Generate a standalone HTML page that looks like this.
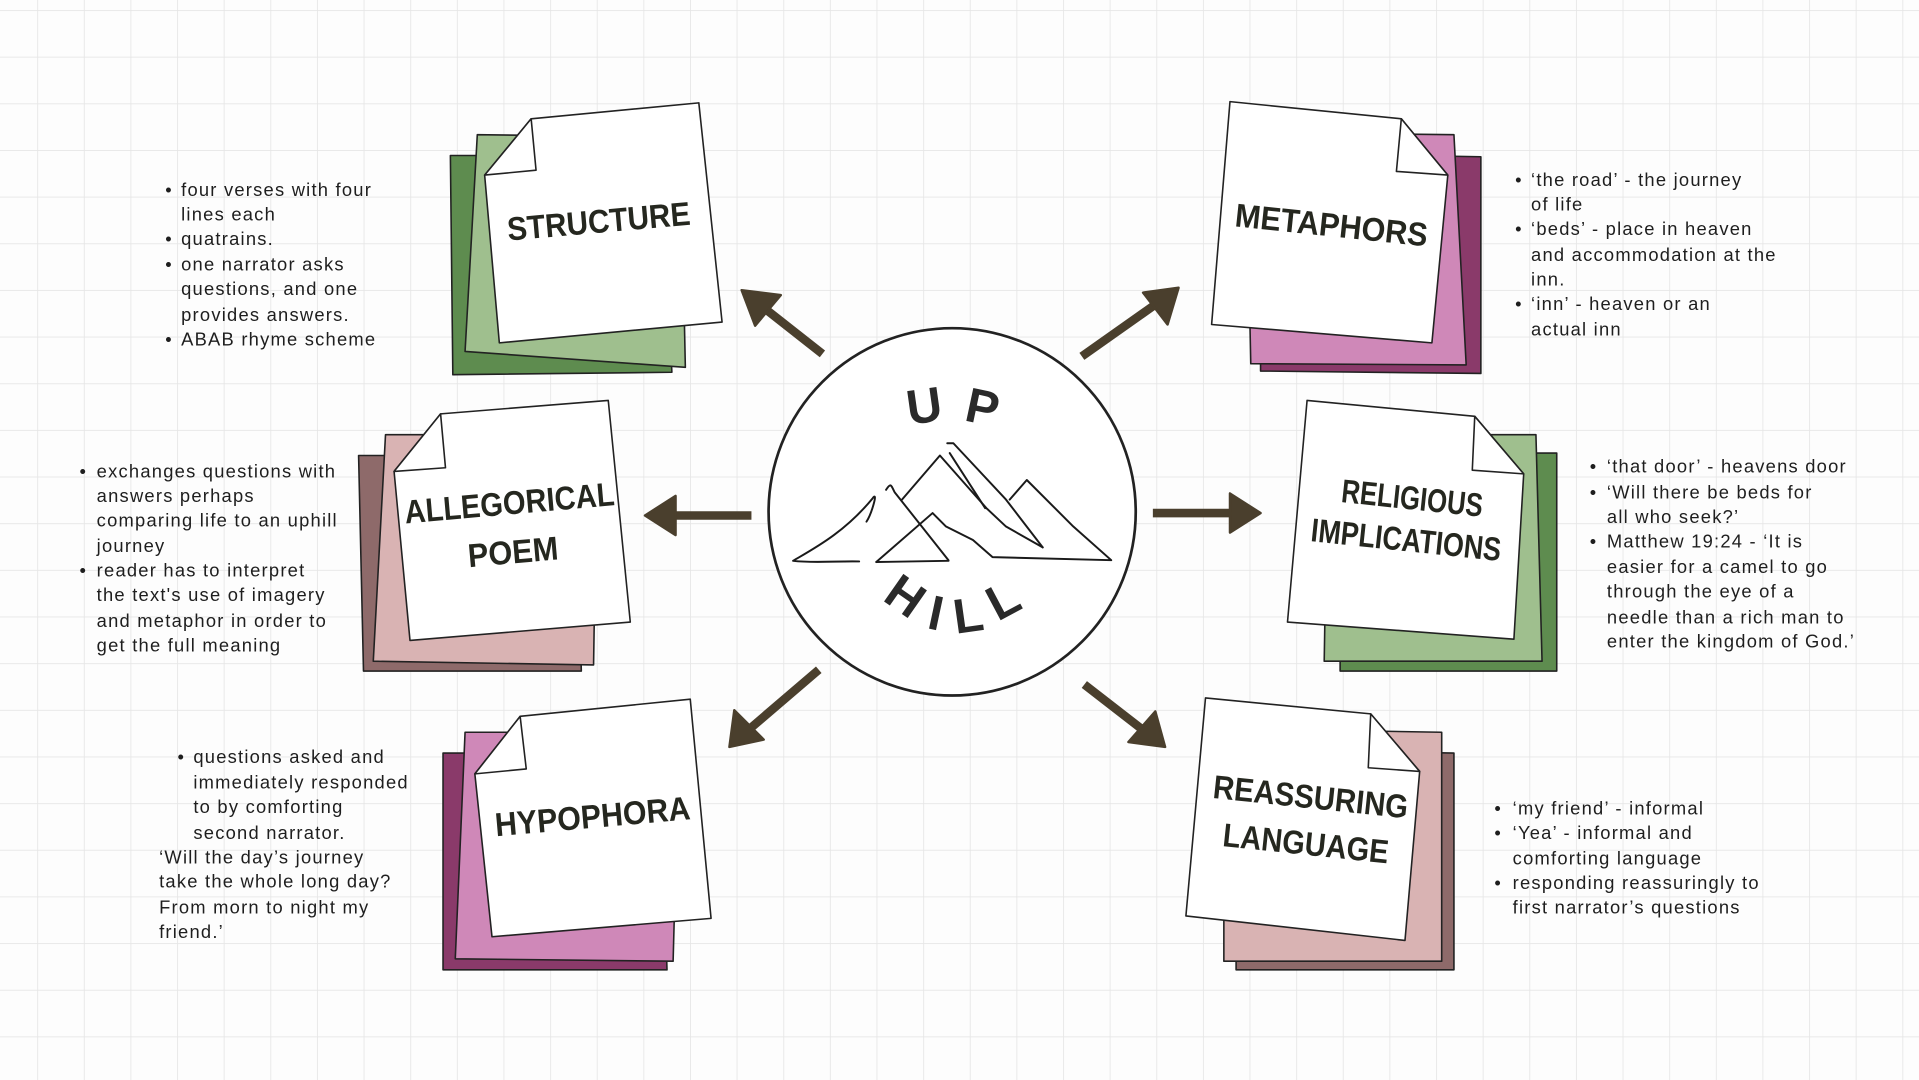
<!DOCTYPE html>
<html><head><meta charset="utf-8"><style>
html,body{margin:0;padding:0;background:#fdfdfd;}
svg{display:block;}
.t{font-family:"Liberation Sans",sans-serif;font-size:15px;letter-spacing:1px;fill:#1e1e1e;}
.h{font-family:"Liberation Sans",sans-serif;font-weight:bold;font-size:27px;fill:#25271f;text-anchor:middle;}
.s{stroke:#222;stroke-width:1.3;stroke-linejoin:round;}
</style></head><body>
<svg width="1919" height="1080" viewBox="0 0 1568 882" preserveAspectRatio="none" xmlns="http://www.w3.org/2000/svg">
<defs>
<pattern id="g" x="30.4" y="8.2" width="38.1" height="38.1" patternUnits="userSpaceOnUse">
<path d="M0 0H38.1M0 0V38.1" stroke="#e6e6e6" stroke-width="1.4" fill="none"/>
</pattern>
</defs>
<rect width="1568" height="882" fill="#fdfdfd"/>
<rect width="1568" height="882" fill="url(#g)"/>

<!-- STRUCTURE -->
<polygon class="s" fill="#5e8c4f" points="368,127 540,127 549,304 370,306"/>
<polygon class="s" fill="#9fbf8e" points="390,110 556,112 560,300 380,287"/>
<polygon class="s" fill="#fff" points="434,97 571,84 590,263 408,280 396,143"/>
<polygon class="s" fill="#fff" points="434,97 396,143 438,139"/>
<text class="h" x="490" y="190" textLength="150" lengthAdjust="spacingAndGlyphs" transform="rotate(-5 490 190)">STRUCTURE</text>

<!-- METAPHORS -->
<polygon class="s" fill="#8a3a6a" points="1030,125 1210,128 1210,305 1030,303"/>
<polygon class="s" fill="#cf88b8" points="1018,108 1188,110 1198,298 1022,297"/>
<polygon class="s" fill="#fff" points="1005,83 1145,97 1183,143 1170,280 990,265"/>
<polygon class="s" fill="#fff" points="1145,97 1183,143 1141,140"/>
<text class="h" x="1087" y="193" textLength="158" lengthAdjust="spacingAndGlyphs" transform="rotate(6 1087 193)">METAPHORS</text>

<!-- ALLEGORICAL -->
<polygon class="s" fill="#8e6a6a" points="293,372 470,372 475,548 297,548"/>
<polygon class="s" fill="#d9b3b3" points="315,355 488,355 485,543 305,540"/>
<polygon class="s" fill="#fff" points="360,338 497,327 515,508 335,523 322,385"/>
<polygon class="s" fill="#fff" points="360,338 322,385 364,382"/>
<text class="h" x="417" y="420" textLength="172" lengthAdjust="spacingAndGlyphs" transform="rotate(-5 417 420)">ALLEGORICAL</text>
<text class="h" x="420" y="460" textLength="74" lengthAdjust="spacingAndGlyphs" transform="rotate(-5 420 460)">POEM</text>

<!-- RELIGIOUS -->
<polygon class="s" fill="#5e8c4f" points="1095,370 1272,370 1272,548 1095,548"/>
<polygon class="s" fill="#9fbf8e" points="1085,355 1255,355 1260,540 1082,540"/>
<polygon class="s" fill="#fff" points="1068,327 1205,340 1245,387 1237,522 1052,508"/>
<polygon class="s" fill="#fff" points="1205,340 1245,387 1203,384"/>
<text class="h" x="1153" y="416" textLength="116" lengthAdjust="spacingAndGlyphs" transform="rotate(6 1153 416)">RELIGIOUS</text>
<text class="h" x="1148" y="450" textLength="156" lengthAdjust="spacingAndGlyphs" transform="rotate(6 1148 450)">IMPLICATIONS</text>

<!-- HYPOPHORA -->
<polygon class="s" fill="#8a3a6a" points="362,615 540,615 545,792 362,792"/>
<polygon class="s" fill="#cf88b8" points="380,598 555,598 550,785 372,783"/>
<polygon class="s" fill="#fff" points="425,585 564,571 581,750 402,765 388,632"/>
<polygon class="s" fill="#fff" points="425,585 388,632 430,628"/>
<text class="h" x="485" y="676" textLength="160" lengthAdjust="spacingAndGlyphs" transform="rotate(-5 485 676)">HYPOPHORA</text>

<!-- REASSURING -->
<polygon class="s" fill="#8e6a6a" points="1010,612 1188,615 1188,792 1010,792"/>
<polygon class="s" fill="#d9b3b3" points="1000,595 1178,598 1178,785 1000,785"/>
<polygon class="s" fill="#fff" points="985,570 1120,583 1160,630 1148,768 969,748"/>
<polygon class="s" fill="#fff" points="1120,583 1160,630 1118,627"/>
<text class="h" x="1070" y="660" textLength="160" lengthAdjust="spacingAndGlyphs" transform="rotate(6 1070 660)">REASSURING</text>
<text class="h" x="1066" y="698" textLength="136" lengthAdjust="spacingAndGlyphs" transform="rotate(6 1066 698)">LANGUAGE</text>

<!-- ARROWS -->
<g stroke="#4a3f2d" stroke-width="7" fill="#4a3f2d">
<line x1="672" y1="289" x2="625" y2="252"/>
<line x1="884" y1="291" x2="945" y2="248"/>
<line x1="614" y1="421" x2="548" y2="421"/>
<line x1="942" y1="419" x2="1008" y2="419"/>
<line x1="669" y1="547" x2="614" y2="594"/>
<line x1="886" y1="559" x2="935" y2="597"/>
</g>
<g fill="#4a3f2d" stroke="#4a3f2d" stroke-width="2" stroke-linejoin="round">
<polygon points="606,237 638,241 617,266"/>
<polygon points="963,235 954,265 934,239"/>
<polygon points="527,421 552,405 552,437"/>
<polygon points="1030,419 1005,403 1005,435"/>
<polygon points="596,610 600,580 624,604"/>
<polygon points="952,610 922,606 944,581"/>
</g>

<!-- CENTER -->
<circle cx="778" cy="418" r="150" fill="#fff" stroke="#222" stroke-width="2.2"/>
<g font-family="Liberation Sans,sans-serif" font-weight="bold" font-size="40" fill="#2a2a2a" text-anchor="middle">
<text x="757" y="345" transform="rotate(-8 757 345)">U</text>
<text x="800" y="346" transform="rotate(12 800 346)">P</text>
<text x="732" y="498" transform="rotate(35 732 498)">H</text>
<text x="762" y="514" transform="rotate(12 762 514)">I</text>
<text x="793" y="516" transform="rotate(-8 793 516)">L</text>
<text x="826" y="502" transform="rotate(-28 826 502)">L</text>
</g>
<g fill="none" stroke="#1a1a1a" stroke-width="1.6" stroke-linejoin="round" stroke-linecap="round">
<path d="M702,458.5 C685,458 665,460 648,458 C665,448 690,435 713,407 C718,400 712,420 708,426 M724,400 C728,394 728,396 731,402 L775,457.5"/>
<path d="M716,459 L762,419 L773,430 L795,441 L811,455 L908,457.5 L877,430 L839,392 L825,408"/>
<path d="M716,459 L775,458"/>
<path d="M737,408 L768,372 L806,415 L822,430 L852,447"/>
<path d="M774,362 L779,362 L822,408 L852,447"/>
<path d="M776,370 L805,415"/>
</g>

<!-- NOTES -->
<g class="t">
<text x="135" y="160">•</text>
<text x="148" y="160">four verses with four</text>
<text x="148" y="180">lines each</text>
<text x="135" y="200">•</text><text x="148" y="200">quatrains.</text>
<text x="135" y="221">•</text><text x="148" y="221">one narrator asks</text>
<text x="148" y="241">questions, and one</text>
<text x="148" y="262">provides answers.</text>
<text x="135" y="282">•</text><text x="148" y="282">ABAB rhyme scheme</text>

<text x="1238" y="152">•</text><text x="1251" y="152">‘the road’ - the journey</text>
<text x="1251" y="172">of life</text>
<text x="1238" y="192">•</text><text x="1251" y="192">‘beds’ - place in heaven</text>
<text x="1251" y="213">and accommodation at the</text>
<text x="1251" y="233">inn.</text>
<text x="1238" y="253">•</text><text x="1251" y="253">‘inn’ - heaven or an</text>
<text x="1251" y="274">actual inn</text>

<text x="65" y="390">•</text><text x="79" y="390">exchanges questions with</text>
<text x="79" y="410">answers perhaps</text>
<text x="79" y="430">comparing life to an uphill</text>
<text x="79" y="451">journey</text>
<text x="65" y="471">•</text><text x="79" y="471">reader has to interpret</text>
<text x="79" y="491">the text's use of imagery</text>
<text x="79" y="512">and metaphor in order to</text>
<text x="79" y="532">get the full meaning</text>

<text x="1299" y="386">•</text><text x="1313" y="386">‘that door’ - heavens door</text>
<text x="1299" y="407">•</text><text x="1313" y="407">‘Will there be beds for</text>
<text x="1313" y="427">all who seek?’</text>
<text x="1299" y="447">•</text><text x="1313" y="447">Matthew 19:24 - ‘It is</text>
<text x="1313" y="468">easier for a camel to go</text>
<text x="1313" y="488">through the eye of a</text>
<text x="1313" y="509">needle than a rich man to</text>
<text x="1313" y="529">enter the kingdom of God.’</text>

<text x="145" y="623">•</text><text x="158" y="623">questions asked and</text>
<text x="158" y="644">immediately responded</text>
<text x="158" y="664">to by comforting</text>
<text x="158" y="685">second narrator.</text>
<text x="130" y="705">‘Will the day’s journey</text>
<text x="130" y="725">take the whole long day?</text>
<text x="130" y="746">From morn to night my</text>
<text x="130" y="766">friend.’</text>

<text x="1221" y="665">•</text><text x="1236" y="665">‘my friend’ - informal</text>
<text x="1221" y="685">•</text><text x="1236" y="685">‘Yea’ - informal and</text>
<text x="1236" y="706">comforting language</text>
<text x="1221" y="726">•</text><text x="1236" y="726">responding reassuringly to</text>
<text x="1236" y="746">first narrator’s questions</text>
</g>
</svg>
</body></html>
